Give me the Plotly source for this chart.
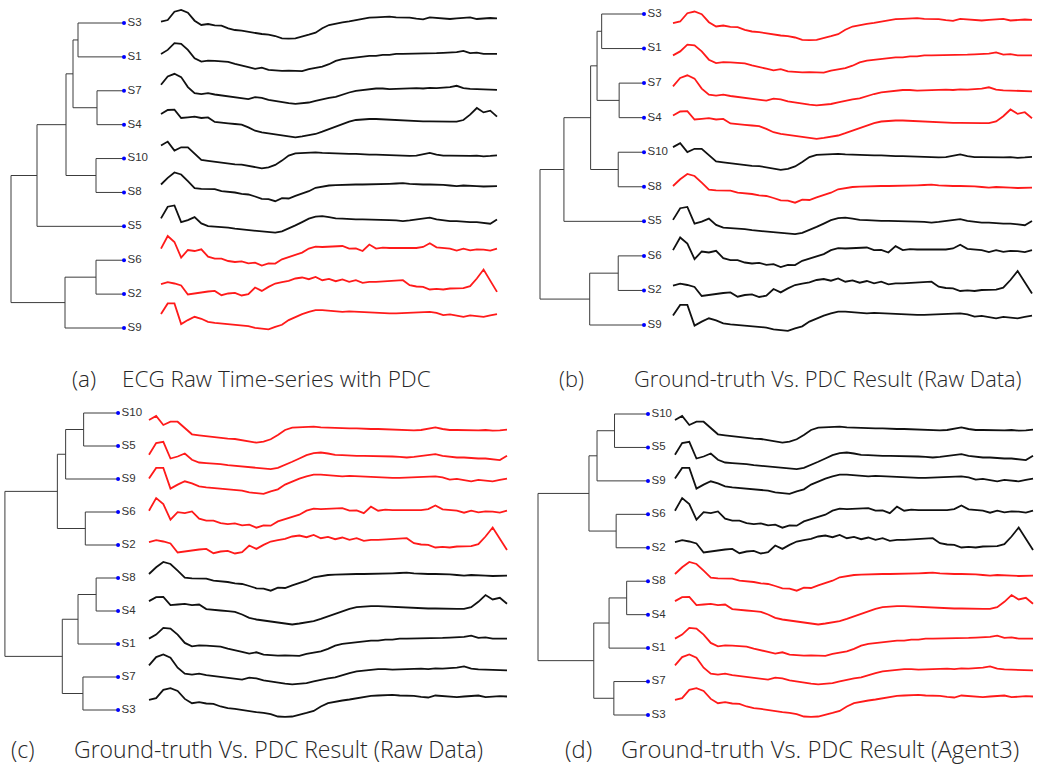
import plotly.graph_objects as go

W, H = 1037, 764

# ---- time index shared by every ECG record ----
T = list(range(51))

# ---- ECG records (amplitude, arbitrary units, up = positive) ----
S1 = [3.0, 7.0, 13.7, 13.0, 7.0, -1.3, -4.7, -3.7, -4.0, -4.7, -5.0, -7.0, -9.0, -10.3, -12.0, -10.7, -13.0,
      -13.7, -14.0, -13.7, -14.0, -14.3, -12.3, -11.3, -9.7, -7.3, -4.0, -2.3, -1.3, -0.3, 0.3, 1.0, 1.0, 2.0,
      2.0, 3.0, 3.0, 3.0, 3.3, 3.7, 3.7, 3.7, 4.0, 4.3, 4.7, 6.0, 3.7, 4.3, 3.0, 3.0, 3.0]
S2 = [10.0, 12.0, 10.7, 8.7, -0.3, 0.7, 2.3, 2.7, 3.3, -1.0, 0.7, 1.3, -1.3, 0.0, 6.7, 3.3, 7.3, 10.7, 12.0,
      13.3, 15.7, 16.7, 15.0, 17.3, 14.0, 15.3, 13.0, 14.7, 12.3, 14.0, 11.3, 12.3, 12.3, 12.7, 13.0, 13.7, 14.0,
      9.0, 7.7, 7.3, 4.7, 5.3, 4.7, 5.7, 5.7, 6.0, 8.0, 15.7, 24.7, 14.0, 2.3]
S3 = [1.3, 3.0, 11.3, 13.0, 10.3, 2.3, -2.0, -1.0, -2.3, -2.7, -5.3, -7.0, -7.7, -9.0, -10.3, -11.0, -11.7,
      -13.0, -15.3, -15.7, -15.3, -13.7, -11.7, -9.7, -5.3, -2.0, -0.3, 0.7, 1.7, 3.0, 4.3, 5.3, 5.7, 6.3, 6.3,
      5.7, 5.7, 5.3, 4.3, 3.7, 5.7, 5.0, 4.0, 4.0, 4.7, 5.0, 5.7, 4.0, 4.7, 5.0, 4.7]
S4 = [10.7, 14.7, 15.0, 6.7, 7.3, 8.0, 6.7, 7.3, 2.7, 1.7, 1.3, 0.7, 0.0, -2.7, -6.0, -7.7, -8.7, -9.3, -10.7,
      -11.7, -12.7, -11.7, -10.3, -9.3, -7.0, -4.3, -1.7, 0.7, 3.0, 4.7, 5.3, 5.7, 5.7, 5.3, 4.7, 4.7, 4.0, 4.0,
      3.7, 3.3, 3.3, 3.0, 3.0, 3.0, 3.0, 4.7, 10.0, 16.7, 12.3, 14.0, 8.0]
S5 = [8.0, 19.7, 21.0, 4.3, 6.3, 9.3, 3.0, 0.3, -0.3, -0.7, -1.3, -2.3, -3.0, -3.7, -4.3, -5.0, -5.7, -6.3,
      -5.0, -2.3, 1.0, 4.3, 7.7, 9.7, 10.3, 9.3, 8.0, 7.7, 7.0, 7.0, 7.0, 7.0, 6.3, 6.3, 6.3, 6.0, 5.3, 6.0, 7.0,
      8.0, 8.7, 7.0, 6.0, 5.3, 5.3, 4.7, 4.3, 4.3, 3.7, 2.7, 7.0]
S6 = [11.7, 24.3, 18.3, 2.7, 10.3, 9.3, 11.0, 3.7, 1.7, 1.7, -0.7, -1.7, -1.0, -3.0, -2.3, -5.3, -3.0, -3.3,
      1.0, 3.0, 5.3, 7.7, 11.7, 13.7, 13.3, 13.7, 13.7, 14.3, 11.7, 12.0, 9.3, 15.7, 11.7, 12.7, 12.3, 12.3,
      12.0, 12.7, 12.3, 13.3, 17.0, 13.0, 12.0, 11.7, 9.7, 11.7, 10.0, 11.0, 10.7, 9.7, 11.7]
S7 = [6.0, 14.3, 17.0, 13.7, 3.7, -2.3, -3.3, -2.3, -3.7, -4.7, -5.7, -6.3, -7.3, -8.3, -6.3, -7.0, -9.0,
      -10.3, -11.3, -12.3, -13.0, -12.7, -11.7, -10.0, -8.3, -7.0, -6.0, -3.7, -1.7, 0.0, 1.0, 1.7, 2.3, 2.3,
      1.7, 2.0, 2.3, 2.7, 2.7, 2.3, 3.0, 2.7, 3.0, 3.7, 5.0, 2.7, 2.0, 1.7, 1.7, 1.7, 1.0]
S8 = [8.0, 14.7, 20.0, 18.0, 11.3, 4.3, 3.7, 3.7, 3.3, 1.3, 0.7, 0.0, -1.3, -2.0, -4.0, -6.3, -6.7, -8.7,
      -5.7, -6.0, -3.3, -1.3, 1.3, 4.7, 6.0, 7.0, 7.3, 7.7, 8.0, 8.0, 8.0, 8.0, 8.0, 8.0, 8.7, 9.0, 9.3, 8.7,
      8.0, 8.0, 8.0, 8.0, 7.7, 7.0, 6.3, 7.0, 7.0, 6.3, 6.0, 6.0, 6.3]
S9 = [14.0, 24.7, 24.7, 4.0, 8.0, 11.3, 9.3, 6.3, 5.3, 4.7, 4.0, 3.7, 3.0, 2.0, 0.3, -0.3, -1.3, 1.3, 3.3,
      8.0, 11.3, 14.0, 16.3, 18.0, 18.0, 17.3, 17.0, 16.3, 16.7, 16.3, 16.0, 15.7, 15.3, 15.3, 14.7, 14.7, 15.0,
      15.3, 15.7, 16.0, 16.3, 15.3, 13.0, 13.7, 12.3, 11.3, 12.7, 12.0, 11.3, 12.7, 14.0]
S10 = [13.0, 17.0, 8.0, 11.3, 11.3, 4.7, -1.3, -2.3, -3.3, -4.3, -5.0, -5.7, -6.0, -7.3, -8.7, -9.7, -8.7,
       -6.3, -2.0, 3.0, 5.3, 5.7, 6.3, 6.3, 5.7, 5.3, 5.3, 5.0, 4.7, 4.7, 4.0, 4.0, 4.0, 3.7, 3.0, 3.0, 3.0, 2.7,
       3.0, 4.0, 5.7, 4.0, 3.0, 3.0, 2.7, 2.3, 2.7, 3.0, 2.3, 2.7, 3.3]

SERIES = {"S1": S1, "S2": S2, "S3": S3, "S4": S4, "S5": S5,
          "S6": S6, "S7": S7, "S8": S8, "S9": S9, "S10": S10}

# ---- dendrogram leaf orders ----
ORDER_PDC_RAW = ["S3", "S1", "S7", "S4", "S10", "S8", "S5", "S6", "S2", "S9"]
ORDER_GROUND = ["S10", "S5", "S9", "S6", "S2", "S8", "S4", "S1", "S7", "S3"]

# ---- merges: (new node, child A, child B, merge height) ----
TREE_PDC_RAW = [("n1", "S3", "S1", 46), ("n2", "S7", "S4", 27), ("n3", "n1", "n2", 51),
                ("n4", "S10", "S8", 28), ("n5", "n3", "n4", 58), ("n6", "n5", "S5", 87),
                ("n7", "S6", "S2", 28), ("n8", "n7", "S9", 59), ("n9", "n6", "n8", 113)]
TREE_GROUND = [("m1", "S10", "S5", 35), ("m2", "m1", "S9", 53.3), ("m3", "S6", "S2", 33.3),
               ("m4", "m2", "m3", 61.7), ("m5", "S8", "S4", 22.3), ("m6", "m5", "S1", 40.7),
               ("m7", "S7", "S3", 35.7), ("m8", "m6", "m7", 56.7), ("m9", "m4", "m8", 115)]

# ---- records drawn in red in each panel ----
RED_A = ["S6", "S2", "S9"]
RED_B = ["S3", "S1", "S7", "S4", "S8"]
RED_C = ["S10", "S5", "S9", "S6", "S2"]
RED_D = ["S8", "S4", "S1", "S7", "S3"]

CAPTION_TAGS = ["(a)", "(b)", "(c)", "(d)"]
CAPTION_TEXTS = ["ECG Raw Time-series with PDC", "Ground-truth Vs. PDC Result (Raw Data)",
                 "Ground-truth Vs. PDC Result (Raw Data)", "Ground-truth Vs. PDC Result (Agent3)"]

# ---- layout (pixel placement of each panel) ----
PANELS = [
    dict(order=ORDER_PDC_RAW, tree=TREE_PDC_RAW, red=RED_A, root_px=11, leaf_px=124, leaf_y=(23, 328),
         ser_x=(161, 497), ser_base=23, ser_gap=33.9, tag_x=70, txt_x=120, cap_y=378, cap_size=22.5),
    dict(order=ORDER_PDC_RAW, tree=TREE_PDC_RAW, red=RED_B, root_px=540, leaf_px=644, leaf_y=(14, 325),
         ser_x=(673, 1032), ser_base=24.5, ser_gap=33.9, tag_x=557, txt_x=632, cap_y=378, cap_size=21.8),
    dict(order=ORDER_GROUND, tree=TREE_GROUND, red=RED_C, root_px=3, leaf_px=118, leaf_y=(413, 710),
         ser_x=(149, 507), ser_base=433, ser_gap=29.8, tag_x=9, txt_x=72, cap_y=749, cap_size=23),
    dict(order=ORDER_GROUND, tree=TREE_GROUND, red=RED_D, root_px=538, leaf_px=648, leaf_y=(414, 715),
         ser_x=(675, 1035), ser_base=433, ser_gap=29.8, tag_x=563, txt_x=619, cap_y=749, cap_size=23.8),
]


def lin_range(p0, p1, pa, va, pb, vb):
    k = (vb - va) / (pb - pa)
    return [va + (p0 - pa) * k, va + (p1 - pa) * k]


def clamp(v):
    return max(0.0, min(1.0, v))


def dendro_segments(tree, order):
    pos = {name: float(i) for i, name in enumerate(order)}
    hgt = {name: 0.0 for name in order}
    xs, ys = [], []
    for node, a, b, h in tree:
        ya, yb = pos[a], pos[b]
        xs += [hgt[a], h, h, hgt[b], None]
        ys += [ya, ya, yb, yb, None]
        pos[node] = (ya + yb) / 2.0
        hgt[node] = h
    return xs, ys


fig = go.Figure()
layout_axes = {}
annotations = []

for pi, p in enumerate(PANELS):
    dx_i, dy_i = 2 * pi + 1, 2 * pi + 1
    sx_i, sy_i = 2 * pi + 2, 2 * pi + 2
    dx_name = "x" if dx_i == 1 else f"x{dx_i}"
    dy_name = "y" if dy_i == 1 else f"y{dy_i}"
    sx_name, sy_name = f"x{sx_i}", f"y{sx_i}"

    root_h = p["tree"][-1][3]
    # dendrogram axes
    d0, d1 = p["root_px"] - 5, p["leaf_px"] + 5
    layout_axes["xaxis" if dx_i == 1 else f"xaxis{dx_i}"] = dict(
        domain=[clamp(d0 / W), clamp(d1 / W)],
        range=lin_range(d0, d1, p["root_px"], root_h, p["leaf_px"], 0.0),
        anchor=dy_name, visible=False, fixedrange=True)
    ly0, ly9 = p["leaf_y"]
    t0, t1 = ly0 - 10, ly9 + 10
    layout_axes["yaxis" if dy_i == 1 else f"yaxis{dy_i}"] = dict(
        domain=[clamp(1 - t1 / H), clamp(1 - t0 / H)],
        range=lin_range(t1, t0, ly0, 0.0, ly9, 9.0),
        anchor=dx_name, visible=False, fixedrange=True)

    xs, ys = dendro_segments(p["tree"], p["order"])
    fig.add_trace(go.Scatter(x=xs, y=ys, mode="lines", xaxis=dx_name, yaxis=dy_name,
                             line=dict(color="#3c3c3c", width=1), hoverinfo="skip"))
    fig.add_trace(go.Scatter(x=[0.0] * len(p["order"]), y=list(range(len(p["order"]))),
                             mode="markers+text", text=p["order"], textposition="middle right",
                             xaxis=dx_name, yaxis=dy_name, cliponaxis=False,
                             marker=dict(color="#0000ff", size=4),
                             textfont=dict(family="Arial, Liberation Sans", size=11.5, color="#333333"),
                             hoverinfo="skip"))

    # time-series axes
    x0, x1 = p["ser_x"]
    layout_axes[f"xaxis{sx_i}"] = dict(
        domain=[clamp((x0 - 4) / W), clamp((x1 + 4) / W)],
        range=lin_range(x0 - 4, x1 + 4, x0, T[0], x1, T[-1]),
        anchor=sy_name, visible=False, fixedrange=True)
    base, gap = p["ser_base"], p["ser_gap"]
    st, sb = max(0, base - 22), min(H, base + 9 * gap + 22)
    layout_axes[f"yaxis{sy_i}"] = dict(
        domain=[clamp(1 - sb / H), clamp(1 - st / H)],
        range=lin_range(sb, st, base, 0.0, base + 1.0, 1.0),
        anchor=sx_name, visible=False, fixedrange=True)

    for k, name in enumerate(p["order"]):
        vals = SERIES[name]
        color = "#ff1a1a" if name in p["red"] else "#111111"
        fig.add_trace(go.Scatter(x=T, y=[k * gap - v for v in vals], mode="lines",
                                 xaxis=sx_name, yaxis=sy_name,
                                 line=dict(color=color, width=1.8), hoverinfo="skip"))

    cap_font = dict(family="Open Sans", size=p["cap_size"], color="#262626", weight=300)
    annotations.append(dict(text=CAPTION_TAGS[pi], x=p["tag_x"] / W, y=1 - p["cap_y"] / H,
                            xref="paper", yref="paper", xanchor="left", yanchor="middle",
                            showarrow=False, font=cap_font))
    annotations.append(dict(text=CAPTION_TEXTS[pi], x=p["txt_x"] / W, y=1 - p["cap_y"] / H,
                            xref="paper", yref="paper", xanchor="left", yanchor="middle",
                            showarrow=False, font=cap_font))

fig.update_layout(width=W, height=H, margin=dict(l=0, r=0, t=0, b=0),
                  paper_bgcolor="white", plot_bgcolor="white", showlegend=False,
                  hovermode=False, annotations=annotations, **layout_axes)

fig.write_html("out.html", config={"displayModeBar": False})
